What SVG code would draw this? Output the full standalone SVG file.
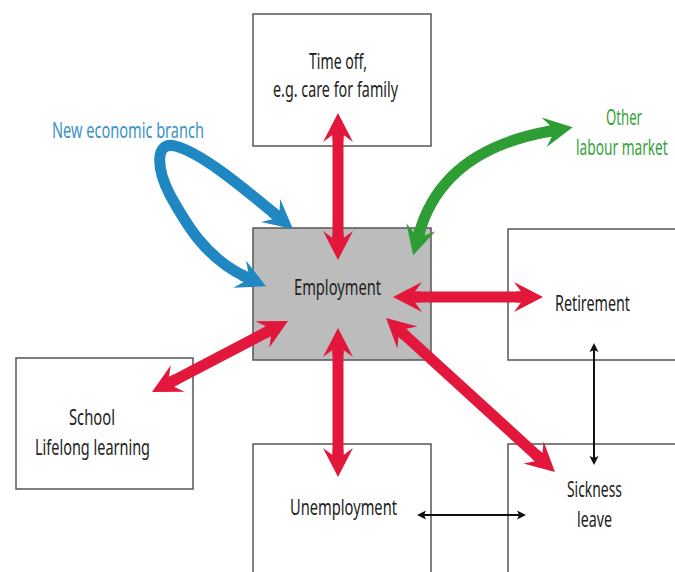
<svg xmlns="http://www.w3.org/2000/svg" width="675" height="572" viewBox="0 0 675 572">
<style>
.box{fill:#fff;stroke:#555;stroke-width:1.5}
.emp{fill:#bcbcbc;stroke:#555;stroke-width:1.5}
.t{font-family:"Noto Sans","Open Sans",sans-serif;font-size:21px;fill:#222}
.red{fill:none;stroke:#e2173b;stroke-width:11;marker-start:url(#hr);marker-end:url(#hr)}
.blue{fill:none;stroke:#1f88c2;stroke-width:11;marker-start:url(#hb);marker-end:url(#hb)}
.green{fill:none;stroke:#2e9d33;stroke-width:11;marker-start:url(#hg);marker-end:url(#hg)}
.blk{fill:none;stroke:#111;stroke-width:2;marker-start:url(#hk);marker-end:url(#hk)}
</style>
<defs>
<marker id="hr" markerUnits="userSpaceOnUse" viewBox="-30 -20 60 40" refX="0" refY="0" markerWidth="60" markerHeight="40" orient="auto-start-reverse" overflow="visible"><path d="M22,0 L-7,-15 L0,-5.5 L-5,-5.5 L-5,5.5 L0,5.5 L-7,15 Z" fill="#e2173b"/></marker>
<marker id="hb" markerUnits="userSpaceOnUse" viewBox="-30 -20 60 40" refX="0" refY="0" markerWidth="60" markerHeight="40" orient="auto-start-reverse" overflow="visible"><path d="M22,0 L-7,-15 L0,-5.5 L-5,-5.5 L-5,5.5 L0,5.5 L-7,15 Z" fill="#1f88c2"/></marker>
<marker id="hg" markerUnits="userSpaceOnUse" viewBox="-30 -20 60 40" refX="0" refY="0" markerWidth="60" markerHeight="40" orient="auto-start-reverse" overflow="visible"><path d="M22,0 L-7,-15 L0,-5.5 L-5,-5.5 L-5,5.5 L0,5.5 L-7,15 Z" fill="#2e9d33"/></marker>
<marker id="hk" markerUnits="userSpaceOnUse" viewBox="-10 -6 20 12" refX="0" refY="0" markerWidth="20" markerHeight="12" orient="auto-start-reverse" overflow="visible"><path d="M6,0 L-3,-4.5 L-1,0 L-3,4.5 Z" fill="#111"/></marker>
</defs>
<g id="timeoff"><rect class="box" x="253" y="14" width="178" height="132"/>
<text class="t" x="309" y="69" textLength="58" lengthAdjust="spacingAndGlyphs">Time off,</text>
<text class="t" x="273" y="97" textLength="125" lengthAdjust="spacingAndGlyphs">e.g. care for family</text></g>
<g id="employment"><rect class="emp" x="253" y="228" width="178" height="132"/></g>
<g id="retirement"><rect class="box" x="508" y="229" width="180" height="131"/>
<text class="t" x="555" y="311" textLength="75" lengthAdjust="spacingAndGlyphs">Retirement</text></g>
<g id="school"><rect class="box" x="16" y="358" width="177" height="131"/>
<text class="t" x="69" y="425" textLength="46" lengthAdjust="spacingAndGlyphs">School</text>
<text class="t" x="35" y="455" textLength="115" lengthAdjust="spacingAndGlyphs">Lifelong learning</text></g>
<g id="unemployment"><rect class="box" x="253" y="444" width="178" height="140"/>
<text class="t" x="290" y="515" textLength="107" lengthAdjust="spacingAndGlyphs">Unemployment</text></g>
<g id="sickness"><rect class="box" x="508" y="444" width="180" height="140"/>
<text class="t" x="567" y="497" textLength="55" lengthAdjust="spacingAndGlyphs">Sickness</text>
<text class="t" x="577" y="527" textLength="35" lengthAdjust="spacingAndGlyphs">leave</text></g>
<g id="neweconomic"><text class="t" x="52" y="138" textLength="152" lengthAdjust="spacingAndGlyphs" style="fill:#3a93c8">New economic branch</text></g>
<g id="otherlabour"><text class="t" x="606" y="125" textLength="36" lengthAdjust="spacingAndGlyphs" style="fill:#36a23a">Other</text>
<text class="t" transform="translate(576,155) scale(0.68,1)" x="0" y="0" textLength="135" lengthAdjust="spacingAndGlyphs" style="fill:#36a23a">labour market</text></g>
<g id="connectors">
<line class="red" x1="338" y1="135" x2="338" y2="238"/>
<line class="red" x1="338" y1="350" x2="338" y2="455"/>
<line class="red" x1="415" y1="297" x2="521" y2="297"/>
<line class="red" x1="268.5" y1="331.2" x2="171.5" y2="381.8"/>
<line class="red" x1="402.3" y1="332.8" x2="538.7" y2="457.2"/>
<path class="blue" d="M276,215 C240,185 200,152 175,146 C155,141 156,168 170,195 C185,222 205,258 246,277"/>
<path class="green" d="M419,234 Q442,150 551,131"/>
<line class="blk" x1="594" y1="349" x2="594" y2="459"/>
<line class="blk" x1="423" y1="515" x2="520" y2="515"/>
</g>
<text class="t" x="294" y="295" textLength="87" lengthAdjust="spacingAndGlyphs">Employment</text>
</svg>
